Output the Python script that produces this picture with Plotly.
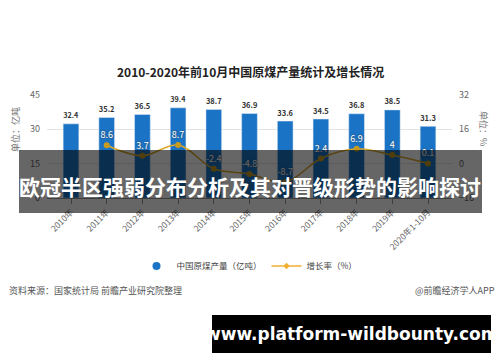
import plotly.graph_objects as go

years = ["2010年", "2011年", "2012年", "2013年", "2014年", "2015年",
         "2016年", "2017年", "2018年", "2019年", "2020年1-10月"]
output = [32.4, 35.2, 36.5, 39.4, 38.7, 36.9, 33.6, 34.5, 36.8, 38.5, 31.3]
growth = [None, 8.6, 3.7, 8.7, -2.4, -4.8, -8.7, 2.4, 6.9, 4, 0.1]

title = "2010-2020年前10月中国原煤产量统计及增长情况"
banner = "欧冠半区强弱分布分析及其对晋级形势的影响探讨"
site = "www.platform-wildbounty.com"
source = "资料来源：国家统计局 前瞻产业研究院整理"
credit = "@前瞻经济学人APP"
name_bar = "中国原煤产量（亿吨）"
name_line = "增长率（%）"

FONT = "Noto Sans CJK SC"
L, R, T, B = 47, 452, 95, 198
W, H = 500, 362
BLUE = "#1a73c4"
GOLD = "#d9a72a"


def px(x):
    return (x - L) / (R - L)


def py(y):
    return (B - y) / (B - T)


fig = go.Figure()
fig.add_trace(go.Bar(
    x=years, y=output, name=name_bar, showlegend=False,
    marker_color=BLUE,
    text=[f"{v}" for v in output], textposition="outside",
    textfont=dict(size=9, color="#333333", family=FONT, weight="bold"),
    cliponaxis=False, yaxis="y",
))
fig.add_trace(go.Scatter(
    x=years, y=growth, name=name_line, yaxis="y2", showlegend=False,
    mode="lines+markers+text", line=dict(color=GOLD, width=1.5, shape="spline"),
    marker=dict(color="#c99a20", size=6),
    text=[("" if v is None else f"{v}") for v in growth], textposition="top center",
    textfont=dict(size=9, color="white", family=FONT, shadow="0px 0px 2px #444"),
    cliponaxis=False,
))
# legend entries
fig.add_trace(go.Scatter(x=[None], y=[None], name=name_bar, mode="markers",
                         marker=dict(color=BLUE, size=8, symbol="circle")))
fig.add_trace(go.Scatter(x=[None], y=[None], name=name_line, mode="lines+markers",
                         line=dict(color="#f0b030", width=1.5),
                         marker=dict(color="#f0b030", size=5, symbol="diamond")))

fig.update_layout(
    width=W, height=H,
    margin=dict(l=L, r=W - R, t=T, b=H - B),
    paper_bgcolor="white", plot_bgcolor="white",
    font=dict(family=FONT, size=9, color="#666666"),
    bargap=0.56,
    showlegend=True,
    legend=dict(orientation="h", x=0.5, xanchor="center", y=py(266), yanchor="middle",
                font=dict(size=8.5, color="#444444"), itemwidth=30, tracegroupgap=0),
    xaxis=dict(tickangle=-45, showgrid=False, showline=True, linecolor="#999999",
               ticks="outside", ticklen=5, tickcolor="#999999",
               tickfont=dict(size=8.5, color="#666666")),
    yaxis=dict(range=[0, 45], tickvals=[0, 15, 30, 45], showgrid=True,
               gridcolor="#e3e3e3", zeroline=False, ticks="",
               tickfont=dict(size=9, color="#666666"), ticklabelstandoff=6),
    yaxis2=dict(range=[-16, 32], tickvals=[-16, 0, 16, 32], overlaying="y", side="right",
                showgrid=False, zeroline=False, ticks="",
                tickfont=dict(size=9, color="#666666"), ticklabelstandoff=6),
)

anns = [
    dict(text=title, x=px(250), y=py(71), font=dict(size=12, color="#222222", family=FONT, weight="bold")),
    dict(text="单位：亿吨", x=px(15), y=py(130), textangle=-90, font=dict(size=9, color="#777777")),
    dict(text="单位：%", x=px(484), y=py(128), textangle=90, font=dict(size=9, color="#777777")),
    dict(text=source, x=px(7), y=py(290), xanchor="left", font=dict(size=9, color="#555555")),
    dict(text=credit, x=px(497), y=py(290), xanchor="right", font=dict(size=9, color="#555555")),
    dict(text=banner, x=px(250), y=py(186), font=dict(size=21, color="white", family=FONT, weight="bold")),
    dict(text=site, x=px(351), y=py(334), font=dict(size=17, color="white", family="DejaVu Sans", weight="bold")),
]
for a in anns:
    a.update(xref="paper", yref="paper", showarrow=False)
    if "xanchor" not in a:
        a["xanchor"] = "center"
    a["yanchor"] = "middle"
fig.update_layout(annotations=anns)

fig.add_shape(type="rect", xref="paper", yref="paper", layer="above",
              x0=px(19), x1=px(482), y0=py(150), y1=py(213),
              fillcolor="rgba(0,0,0,0.6)", line=dict(width=0))
fig.add_shape(type="rect", xref="paper", yref="paper", layer="above",
              x0=px(212), x1=px(491), y0=py(315), y1=py(353),
              fillcolor="black", line=dict(width=0))

fig.write_html("out.html")
